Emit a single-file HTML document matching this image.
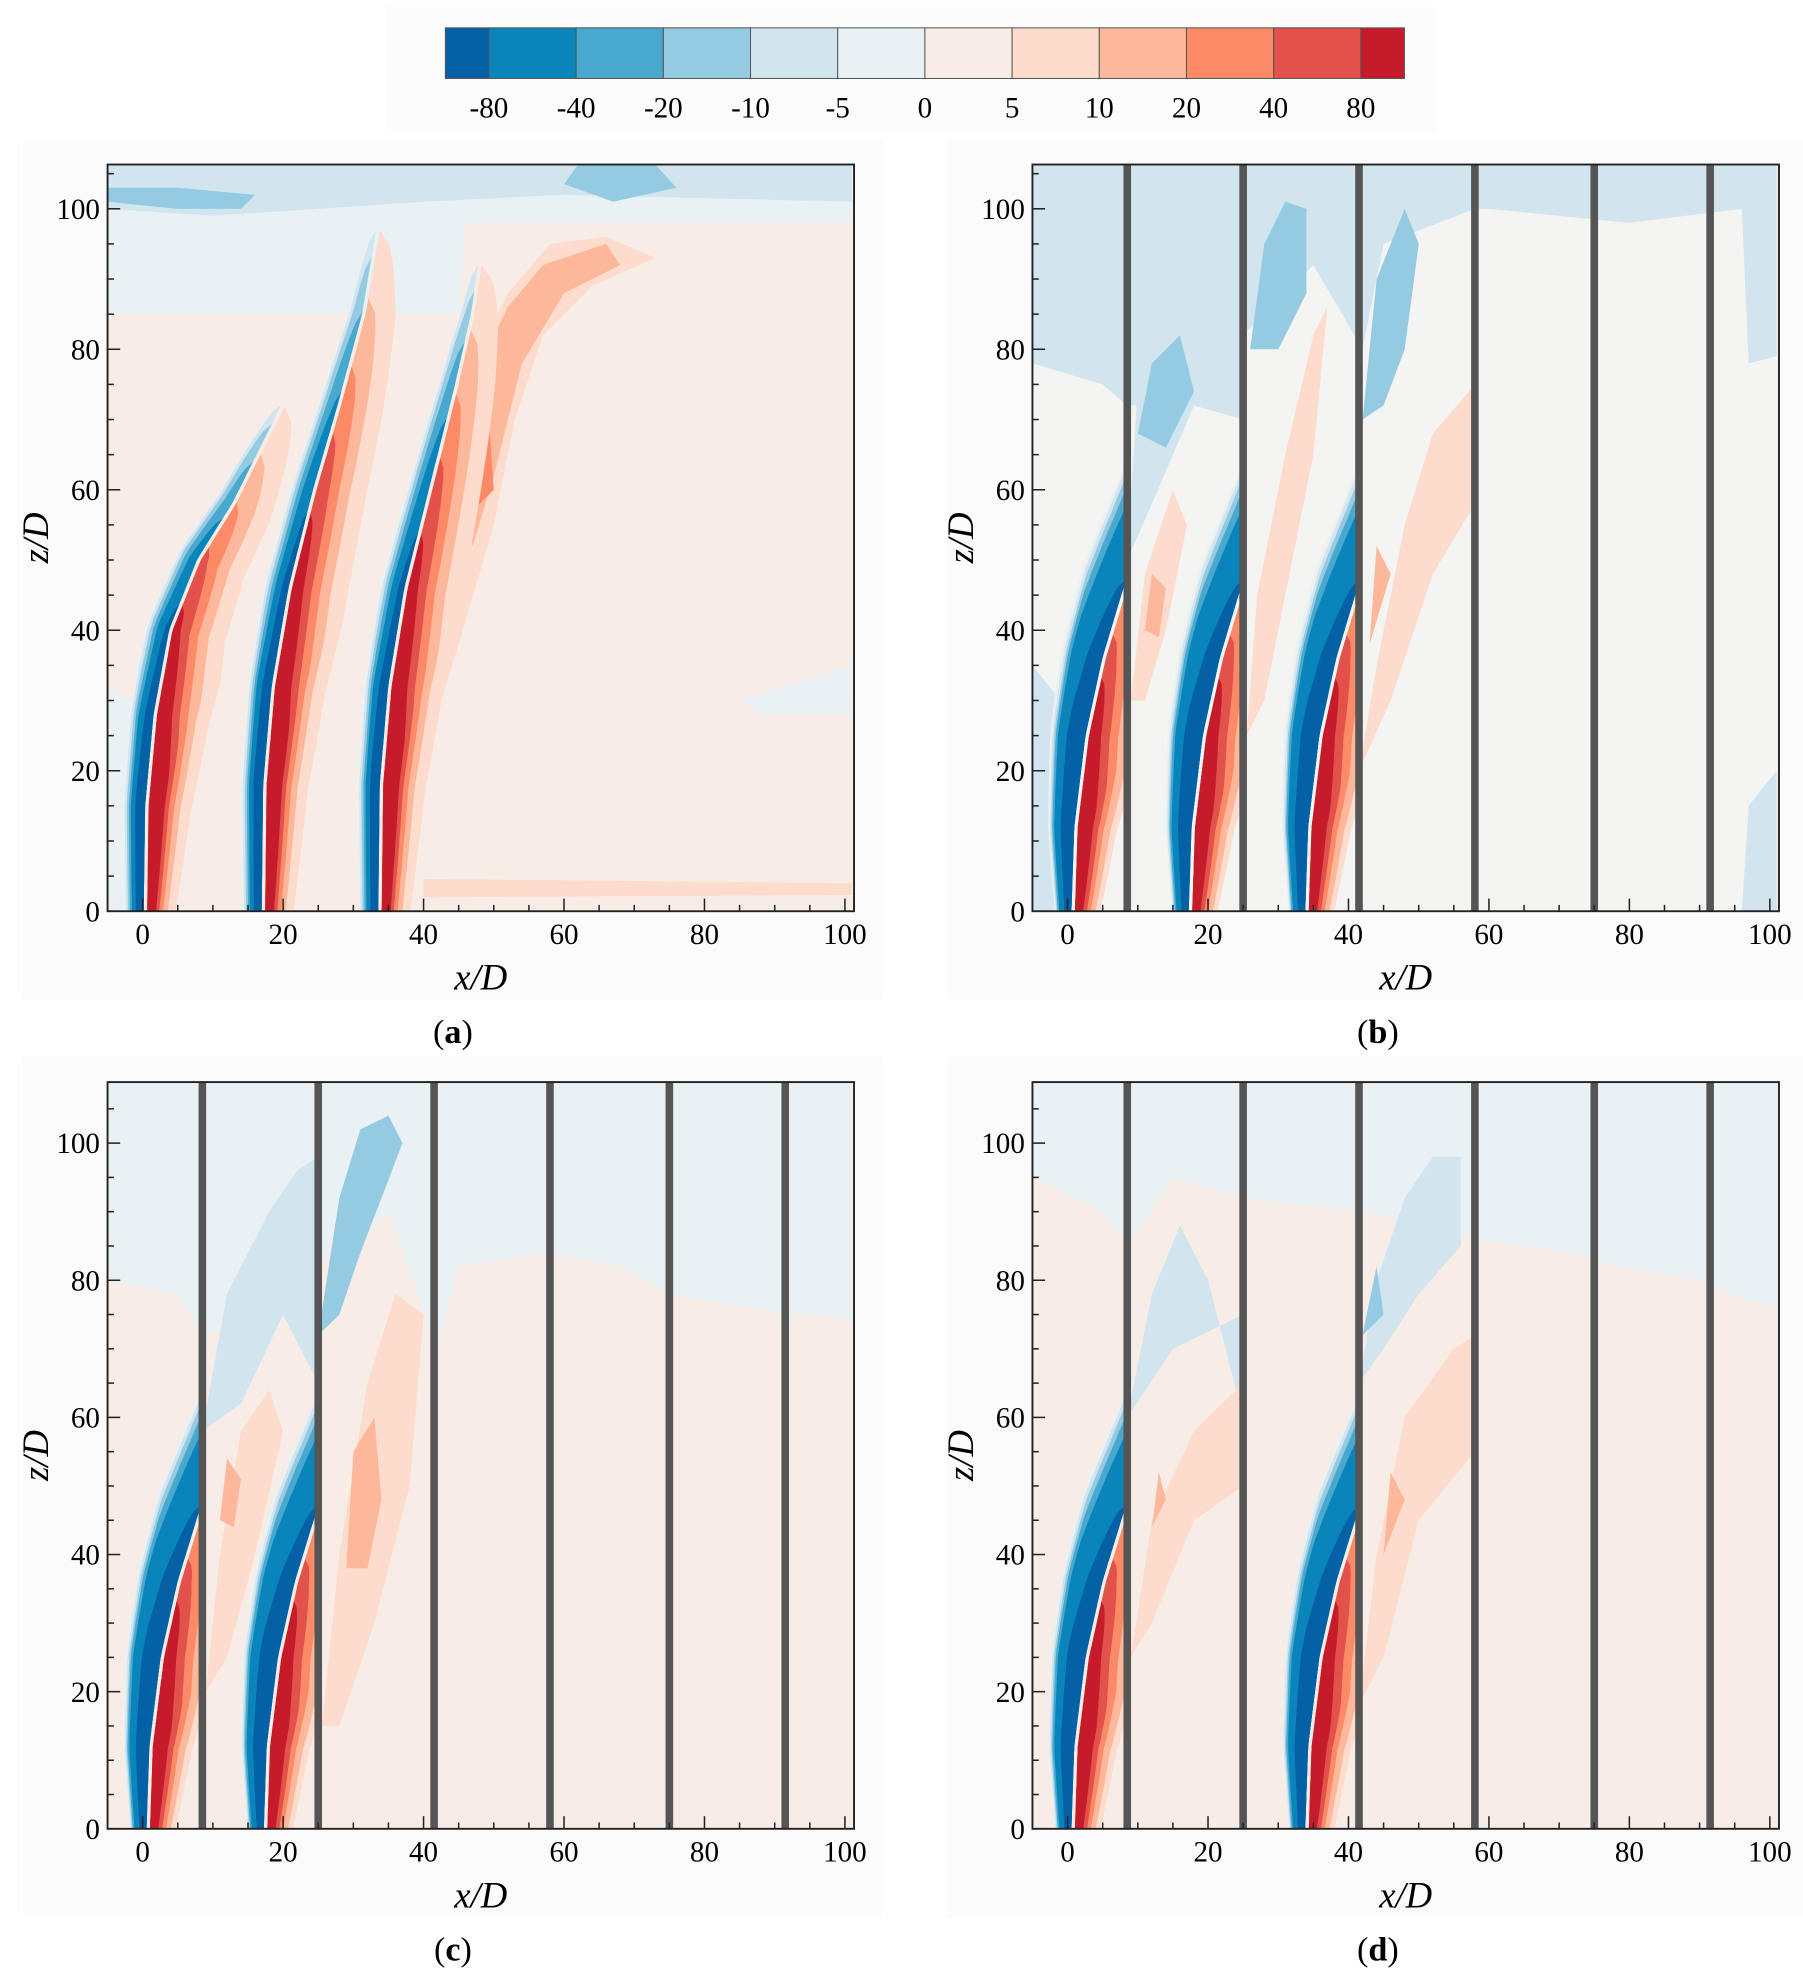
<!DOCTYPE html>
<html><head><meta charset="utf-8"><style>
html,body{margin:0;padding:0;background:#fff;}
svg{display:block;font-family:"Liberation Serif","DejaVu Serif",serif;}
</style></head><body>
<svg id="fig" width="1803" height="1987" viewBox="0 0 1425 1570" preserveAspectRatio="none" xmlns="http://www.w3.org/2000/svg"></svg>
<script>
// ---- data ----
const levelColors = ["#0461a6","#0a85bc","#48a8cd","#95cbe2","#d2e5ef","#e9f1f4","#f8ece7","#fddcce","#fdb89c","#fc8a67","#e2524a","#c61b2b"];
const colorbarLabels = ["-80","-40","-20","-10","-5","0","5","10","20","40","80"];
const xTicks = [0,20,40,60,80,100];
const zTicks = [0,20,40,60,80,100];
const walls = [8.5,25,41.5,58,75,91.5];
// [colorIndex, width (D), fraction of spine length]
const blueLevelsA = [[5,4.0,1.0],[4,3.6,1.0],[3,3.2,0.96],[2,2.8,0.88],[1,2.4,0.76],[0,1.6,0.58]];
const redLevelsA = [[7,9.0,1.0],[8,6.5,0.9],[9,5.0,0.8],[10,3.8,0.7],[11,2.8,0.58]];
const blueLevelsW = [[5,8.0,1.0],[4,7.5,1.0],[3,7.0,0.98],[2,6.5,0.93],[1,5.8,0.86],[0,3.4,0.6]];
const redLevelsW = [[7,8.0,0.68],[8,6.5,0.62],[9,5.0,0.57],[10,3.8,0.5],[11,2.6,0.42]];
// panel (a) jet interfaces (blue on left side, red on right side)
const aJet1 = [[0.4,0],[0.6,15],[1.8,28],[4,40],[8,50],[13,58],[18,68],[20,72]];
const aJet2 = [[17.2,0],[17.4,18],[18.6,32],[21,46],[24.5,60],[28,72],[31.5,85],[33.5,97]];
const aJet3 = [[33.8,0],[34,18],[35.2,32],[37.5,46],[41,60],[44.5,74],[47,85],[48,92]];
// panels b/c/d jet interface (shifted to each jet, truncated by walls)
const wJet = [[0.8,0],[1.2,12],[2.8,25],[5.2,36],[8.2,46],[11,55],[13,62],[14.5,70],[16,78]];
// background blobs per panel [colorIndex, points]
const aBlobs = [
 [5,[[-5,85],[45,85],[46,98],[101,98],[101,107],[-5,107]]],
 [7,[[36,30],[40,50],[43,66],[47,78],[52,88],[58,95],[66,96],[73,93],[64,89],[57,82],[53,70],[50,55],[45,38],[40,22]]],
 [8,[[44,62],[47,76],[52,86],[57,92],[66,95],[68,92],[60,88],[54,78],[50,62],[47,52]]],
 [9,[[45,55],[46,68],[49,74],[50,60]]],
 [4,[[-5,100],[10,99],[25,100],[40,101],[60,102],[101,101],[101,107],[-5,107]]],
 [3,[[-5,101],[5,100],[14,100],[16,102],[5,103],[-5,103]]],
 [3,[[60,103.5],[67,101],[76,103],[73,106.3],[62,106.3]]],
 [7,[[40,2],[101,2.3],[101,4],[40,4.6]]],
 [5,[[85,30],[101,35],[101,28],[88,28]]],
 [5,[[-5,0],[-1.5,0],[-1.5,30],[-5,32]]]
];
const bBlobs = [
 [4,[[-5,107],[101,107],[101,79],[97,78],[96,100],[80,98],[60,100],[58,100],[45,95],[42,80],[35,92],[25,82],[18,72],[8.5,72],[5,75],[-5,78]]],
 [4,[[8.5,50],[10,75],[14,85],[20,90],[25,95],[25,70],[18,72],[12,58]]],
 [3,[[10,68],[12,78],[16,82],[18,74],[14,66]]],
 [3,[[26,80],[28,95],[31,101],[34,100],[34,88],[30,80]]],
 [3,[[42,70],[44,90],[48,100],[50,95],[48,80],[45,72]]],
 [4,[[-5,0],[-1,0],[-1,30],[-5,35]]],
 [4,[[96,0],[101,0],[101,20],[97,15]]],
 [7,[[9,30],[11,48],[15,60],[17,55],[14,40],[11,30]]],
 [8,[[11,40],[12,48],[14,46],[13,39]]],
 [7,[[25.5,25],[27,45],[31,65],[35,82],[37,86],[35,65],[31,45],[28,30]]],
 [7,[[41.5,20],[44,35],[48,55],[52,68],[58,75],[58,58],[52,48],[46,30]]],
 [8,[[43,38],[44,52],[46,48]]]
];
const cBlobs = [
 [5,[[-5,109],[101,109],[101,74],[97,75],[92,75],[75,78],[68,82],[58,84],[45,82],[42,70],[35,90],[25,82],[15,74],[8.5,72],[5,78],[-5,80]]],
 [4,[[8.5,58],[12,78],[18,90],[22,96],[25,98],[25,65],[20,75],[14,62]]],
 [3,[[25,72],[28,92],[31,102],[35,104],[37,100],[34,92],[31,84],[28,75]]],
 [7,[[9,20],[11,40],[14,58],[18,64],[20,58],[16,40],[12,25]]],
 [8,[[11,45],[12,54],[14,51],[13,44]]],
 [7,[[25.5,15],[28,40],[32,65],[36,78],[40,75],[38,50],[33,30],[28,15]]],
 [8,[[29,38],[30,55],[33,60],[34,48],[32,38]]]
];
const dBlobs = [
 [5,[[-5,109],[101,109],[101,76],[97,77],[90,80],[78,82],[72,84],[58,86],[50,88],[42,90],[25,92],[15,95],[8.5,85],[5,90],[-5,95]]],
 [4,[[8.5,60],[12,78],[16,88],[20,80],[25,60],[25,75],[15,70]]],
 [4,[[41.5,65],[44,80],[48,92],[52,98],[56,98],[56,85],[50,78],[45,70]]],
 [3,[[42,72],[44,82],[45,75]]],
 [7,[[9,25],[12,45],[18,58],[25,65],[25,50],[18,45],[12,30]]],
 [8,[[12,44],[13,52],[14,48]]],
 [7,[[41.5,18],[44,40],[48,60],[55,70],[58,72],[58,55],[50,45],[45,25]]],
 [8,[[45,40],[46,52],[48,48]]]
];
// ---- layout ----
const panels = [
 {id:"a", box:[18,110,697,790], L:85,R:675,T:130,B:720, xmin:-5, xmax:101.3, zmax:106.3, bg:6, label:"a", walls:false, blobs:aBlobs,
  lobes:[aJet1,aJet2,aJet3], jets:[]},
 {id:"b", box:[748,110,1425,790], L:816,R:1406,T:130,B:720, xmin:-5, xmax:101.3, zmax:106.3, bg:-1, label:"b", walls:true, blobs:bBlobs, lobes:[], jets:[0,16.7,33.3]},
 {id:"c", box:[18,835,697,1515], L:85,R:675,T:855,B:1445, xmin:-5, xmax:101.3, zmax:108.9, bg:6, label:"c", walls:true, blobs:cBlobs, lobes:[], jets:[0,16.7]},
 {id:"d", box:[748,835,1425,1515], L:816,R:1406,T:855,B:1445, xmin:-5, xmax:101.3, zmax:108.9, bg:6, label:"d", walls:true, blobs:dBlobs, lobes:[], jets:[0,33.3]}
];
const NS="http://www.w3.org/2000/svg";
const svg=document.getElementById("fig");
function mk(tag,attrs,parent){const e=document.createElementNS(NS,tag);for(const k in attrs)e.setAttribute(k,attrs[k]);(parent||svg).appendChild(e);return e;}

// colorbar
const cbG=mk("g",{});


mk("rect",{x:305,y:5,width:830,height:100,fill:"#fcfcfc"},cbG);
const cbL=352,cbR=1110,cbT=22,cbB=62;
const step=(cbR-cbL)/11;
for(let i=0;i<12;i++){
  let x0=i===0?cbL:cbL+step*(i-0.5), x1=i===11?cbR:cbL+step*(i+0.5);
  const r=mk("rect",{x:x0,y:cbT,width:x1-x0,height:cbB-cbT,fill:levelColors[i],stroke:"#555","stroke-width":0.8},cbG);
  
  
}
colorbarLabels.forEach((t,i)=>{
  const tx=mk("text",{x:cbL+step*(i+0.5),y:93,"text-anchor":"middle","font-size":23},cbG);
  tx.textContent=t;
  
  
});

// one-sided band along an interface; side=-1 left (blue), +1 right (red)
function bandPoly(p,spine,w,f,side,g0,sx,sz){
  const pts=spine.map(q=>[sx(q[0]),sz(q[1])]);
  let len=[0];for(let i=1;i<pts.length;i++)len.push(len[i-1]+Math.hypot(pts[i][0]-pts[i-1][0],pts[i][1]-pts[i-1][1]));
  const total=len[len.length-1], end=total*f, N=50;
  const inner=[],outer=[];
  const ppd=(p.R-p.L)/(p.xmax-p.xmin);
  const gap=0.25*ppd;
  for(let k=0;k<=N;k++){
    const s=end*k/N;let i=1;while(i<pts.length-1&&len[i]<s)i++;
    const t=Math.min(1,(s-len[i-1])/((len[i]-len[i-1])||1));
    const x=pts[i-1][0]+(pts[i][0]-pts[i-1][0])*t, y=pts[i-1][1]+(pts[i][1]-pts[i-1][1])*t;
    let dx=pts[i][0]-pts[i-1][0],dy=pts[i][1]-pts[i-1][1];const d=Math.hypot(dx,dy)||1;dx/=d;dy/=d;
    const nx=-dy, ny=dx;
    const u=k/N;
    const ramp=side<0&&g0<0.5?0.6:0.45;
    const grow=g0+(1-g0)*Math.min(1,u/ramp);
    const prof=grow*Math.sqrt(Math.max(0,1-u*u));
    const hw=gap+w*ppd*prof;
    inner.push([x+side*nx*gap,y+side*ny*gap]);
    outer.push([x+side*nx*hw,y+side*ny*hw]);
  }
  return inner.concat(outer.reverse()).map(q=>q[0].toFixed(1)+","+q[1].toFixed(1)).join(" ");
}
function drawJet(p,spine,bl,rl,bg0,parent,sx,sz){
  rl.forEach(lv=>{
    const pg=mk("polygon",{points:bandPoly(p,spine,lv[1],lv[2],1,0.45,sx,sz),fill:levelColors[lv[0]]},parent);
    
    
  });
  bl.forEach(lv=>{
    const pg=mk("polygon",{points:bandPoly(p,spine,lv[1],lv[2],-1,bg0,sx,sz),fill:levelColors[lv[0]]},parent);
    
    
  });
}

panels.forEach(p=>{
  const g=mk("g",{});
  
  
  mk("rect",{x:p.box[0],y:p.box[1],width:p.box[2]-p.box[0],height:p.box[3]-p.box[1],fill:"#fbfbfb"},g);
  const sx=v=>p.L+(v-p.xmin)/(p.xmax-p.xmin)*(p.R-p.L);
  const sz=v=>p.B-v/p.zmax*(p.B-p.T);
  const cid="clip"+p.id;
  const cp=mk("clipPath",{id:cid},g);mk("rect",{x:p.L,y:p.T,width:p.R-p.L,height:p.B-p.T},cp);
  const plot=mk("g",{"clip-path":"url(#"+cid+")"},g);
  
  
  mk("rect",{x:p.L,y:p.T,width:p.R-p.L,height:p.B-p.T,fill:p.bg<0?"#f4f4f2":levelColors[p.bg]},plot);
  p.blobs.forEach(b=>{
    const pg=mk("polygon",{points:b[1].map(q=>sx(q[0]).toFixed(1)+","+sz(q[1]).toFixed(1)).join(" "),fill:levelColors[b[0]]},plot);
    
    
  });
  p.lobes.forEach(sp=>drawJet(p,sp,blueLevelsA,redLevelsA,0.7,plot,sx,sz));
  p.jets.forEach(j0=>{
    const wall=walls.find(w=>w>j0+3);
    const jc="jc"+p.id+Math.round(j0);
    const c2=mk("clipPath",{id:jc},g);mk("rect",{x:sx(j0-8),y:p.T,width:sx(wall)-sx(j0-8),height:p.B-p.T},c2);
    const jg=mk("g",{"clip-path":"url(#"+jc+")"},plot);
    
    
    drawJet(p,wJet.map(q=>[q[0]+j0,q[1]]),blueLevelsW,redLevelsW,0.3,jg,sx,sz);
  });
  if(p.walls){
    walls.forEach(w=>{
      const r=mk("rect",{x:sx(w)-3,y:p.T,width:6,height:p.B-p.T,fill:"#555"},plot);
      
      
    });
  }
  mk("rect",{x:p.L,y:p.T,width:p.R-p.L,height:p.B-p.T,fill:"none",stroke:"#222","stroke-width":1.5},g);
  for(let v=0;v<=p.xmax;v+=5){
    const maj=v%20===0;
    mk("line",{x1:sx(v),x2:sx(v),y1:p.B,y2:p.B-(maj?10:5),stroke:"#222","stroke-width":1.2},g);
  }
  for(let v=0;v<=p.zmax;v+=5){
    const maj=v%20===0;
    mk("line",{x1:p.L,x2:p.L+(maj?10:5),y1:sz(v),y2:sz(v),stroke:"#222","stroke-width":1.2},g);
  }
  xTicks.forEach(v=>{
    const t=mk("text",{x:sx(v),y:p.B+26,"text-anchor":"middle","font-size":23},g);t.textContent=v;
    
    
  });
  zTicks.forEach(v=>{
    const t=mk("text",{x:p.L-6,y:sz(v)+8,"text-anchor":"end","font-size":23},g);t.textContent=v;
    
    
  });
  const xl=mk("text",{x:(p.L+p.R)/2,y:p.B+62,"text-anchor":"middle","font-size":29,"font-style":"italic"},g);xl.textContent="x/D";
  
  
  const ly=(p.T+p.B)/2;
  const yl=mk("text",{x:p.L-47,y:ly,"text-anchor":"middle","font-size":29,"font-style":"italic",transform:"rotate(-90 "+(p.L-47)+" "+ly+")"},g);yl.textContent="z/D";
  
  
  const pl=mk("text",{x:(p.L+p.R)/2-22,y:p.B+104,"text-anchor":"middle","font-size":27},g);
  pl.innerHTML='(<tspan font-weight="bold">'+p.label+'</tspan>)';
  
  
});
</script>
</body></html>
